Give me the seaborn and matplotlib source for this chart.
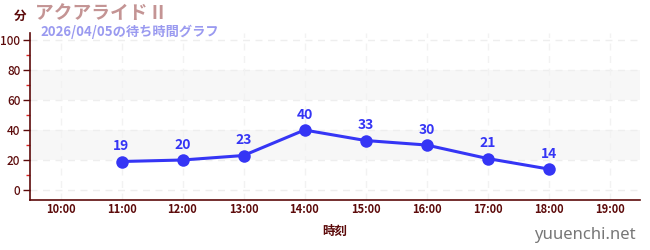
import matplotlib
matplotlib.use("Agg")
import matplotlib.pyplot as plt
import seaborn as sns
import pandas as pd
from matplotlib.ticker import MultipleLocator

hours = [11, 12, 13, 14, 15, 16, 17, 18]
waits = [19, 20, 23, 40, 33, 30, 21, 14]
tick_hours = list(range(10, 20))
tick_labels = [f"{h}:00" for h in tick_hours]
title = "アクアライド II"
subtitle = "2026/04/05の待ち時間グラフ"

sns.set_theme(style="white")
plt.rcParams["font.family"] = ["Noto Sans CJK JP", "DejaVu Sans"]

maroon = "#5c0a0a"
blue = "#3535f5"

df = pd.DataFrame({"hour": hours, "wait": waits})

fig = plt.figure(figsize=(6.5, 2.5), dpi=100)
ax = fig.add_axes([30 / 650, 50 / 250, 610 / 650, 167 / 250])

ax.set_xlim(9.5, 19.5)
ax.set_ylim(-6.67, 104.7)

# alternating horizontal bands
for lo, hi in [(20, 40), (60, 80)]:
    ax.axhspan(lo, hi, color="#f7f7f7", zorder=0, lw=0)

# dashed grid
for y in range(0, 101, 20):
    ax.axhline(y, color="#eeeeee", lw=1, ls=(0, (5, 4)), zorder=0.5)
for h in tick_hours:
    ax.axvline(h, color="#f2f2f2", lw=1, ls=(0, (5, 4)), zorder=0.5)

sns.lineplot(data=df, x="hour", y="wait", ax=ax, color=blue, lw=2.2,
             marker="o", markersize=9, markeredgewidth=0, zorder=3)

for h, w in zip(hours, waits):
    ax.annotate(str(w), (h, w), xytext=(0, 6), textcoords="offset points",
                ha="center", va="bottom", color=blue, fontsize=10,
                fontweight="bold")

ax.set_xticks(tick_hours)
ax.set_xticklabels(tick_labels, fontweight="bold")
ax.set_yticks(range(0, 101, 20))
for lab in ax.get_yticklabels():
    lab.set_fontweight("medium")
ax.yaxis.set_minor_locator(MultipleLocator(10))

for s in ["top", "right"]:
    ax.spines[s].set_visible(False)
for s in ["left", "bottom"]:
    ax.spines[s].set_color(maroon)
    ax.spines[s].set_linewidth(1.2)

ax.tick_params(axis="x", which="major", length=3.5, width=1.5, color="#888888",
               labelsize=8, labelcolor=maroon, pad=-1.5, direction="out")
ax.tick_params(axis="y", which="major", length=5, width=1, color=maroon,
               labelsize=8.5, labelcolor=maroon, pad=2, direction="out", left=True)
ax.tick_params(axis="y", which="minor", length=3, width=1, color="#dd2222",
               left=True)
ax.tick_params(axis="x", which="minor", bottom=False)
ax.set_xlabel("時刻", color=maroon, fontsize=9, fontweight="bold", labelpad=6.5)
ax.set_ylabel("")

fig.text(20 / 650, 1 - 16 / 250, "分", color=maroon, fontsize=9,
         fontweight="bold", ha="center", va="center")
fig.text(35 / 650, 1 - 13 / 250, title, color="#c49494", fontsize=13.5,
         fontweight="bold", ha="left", va="center")
fig.text(40 / 650, 1 - 32 / 250, subtitle, color="#9a9af0", fontsize=9.5,
         fontweight="bold", ha="left", va="center")
fig.text(636 / 650, 1 - 235 / 250, "yuuenchi.net", color="#777777",
         fontsize=12, ha="right", va="center",
         family=["Noto Sans", "DejaVu Sans"])

fig.savefig("out.png", dpi=100)
